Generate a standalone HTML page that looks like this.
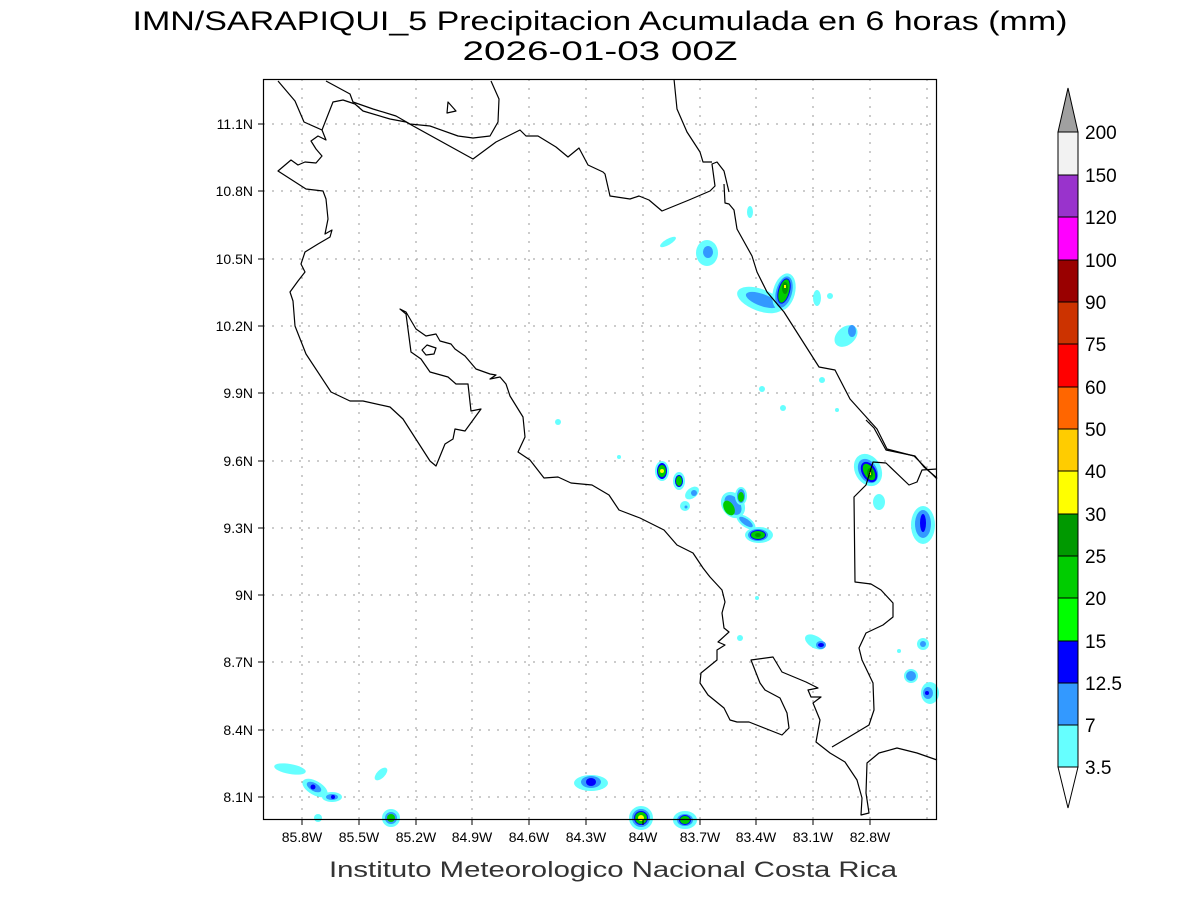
<!DOCTYPE html>
<html><head><meta charset="utf-8"><style>
body{margin:0;background:#fff;}
svg text{font-family:"Liberation Sans",sans-serif;}
</style></head><body>
<svg width="1200" height="900" viewBox="0 0 1200 900" xmlns="http://www.w3.org/2000/svg">
<rect width="1200" height="900" fill="#fff"/>
<text x="600" y="30" font-size="27" text-anchor="middle" textLength="935" lengthAdjust="spacingAndGlyphs">IMN/SARAPIQUI_5 Precipitacion Acumulada en 6 horas (mm)</text>
<text x="600" y="60" font-size="27" text-anchor="middle" textLength="275" lengthAdjust="spacingAndGlyphs">2026-01-03 00Z</text>
<text x="613" y="877" font-size="22" text-anchor="middle" fill="#333" textLength="568" lengthAdjust="spacingAndGlyphs">Instituto Meteorologico Nacional Costa Rica</text>

<!-- grid -->
<g stroke="#999" stroke-width="1" stroke-dasharray="2,7">
<path d="M302 79V820M359 79V820M416 79V820M472 79V820M529 79V820M586 79V820M643 79V820M700 79V820M756 79V820M813 79V820M870 79V820M927 79V820"/>
<path d="M263 797H937M263 730H937M263 662H937M263 595H937M263 528H937M263 461H937M263 393H937M263 326H937M263 259H937M263 191H937M263 124H937"/>
</g>

<!-- rain -->
<g>
<ellipse cx="668" cy="242" rx="9" ry="3" fill="#66ffff" transform="rotate(-30 668 242)"/>
<ellipse cx="707" cy="253" rx="11" ry="13" fill="#66ffff"/><ellipse cx="708" cy="252" rx="5" ry="6" fill="#3399ff"/>
<ellipse cx="750" cy="212" rx="3" ry="6" fill="#66ffff"/>
<ellipse cx="760" cy="300" rx="24" ry="11" fill="#66ffff" transform="rotate(20 760 300)"/>
<ellipse cx="762" cy="300" rx="17" ry="6" fill="#3399ff" transform="rotate(20 762 300)"/>
<ellipse cx="784" cy="292" rx="11" ry="19" fill="#66ffff" transform="rotate(15 784 292)"/>
<ellipse cx="784" cy="292" rx="8" ry="16" fill="#3399ff" transform="rotate(15 784 292)"/>
<ellipse cx="784" cy="291" rx="6" ry="13" fill="#0000ff" transform="rotate(15 784 291)"/>
<ellipse cx="784" cy="291" rx="5" ry="12" fill="#00cc00" transform="rotate(15 784 291)"/>
<ellipse cx="785" cy="288" rx="3" ry="6" fill="#009900"/><rect x="784" y="285" width="2" height="3" fill="#ffff00"/>
<ellipse cx="817" cy="298" rx="4" ry="8" fill="#66ffff"/><circle cx="830" cy="296" r="3" fill="#66ffff"/>
<ellipse cx="846" cy="336" rx="13" ry="9" fill="#66ffff" transform="rotate(-40 846 336)"/><ellipse cx="852" cy="331" rx="4" ry="6" fill="#3399ff"/>
<circle cx="762" cy="389" r="3" fill="#66ffff"/><circle cx="783" cy="408" r="3" fill="#66ffff"/><circle cx="822" cy="380" r="3" fill="#66ffff"/><circle cx="837" cy="410" r="2" fill="#66ffff"/>
<circle cx="558" cy="422" r="3" fill="#66ffff"/><circle cx="619" cy="457" r="2" fill="#66ffff"/>
<ellipse cx="868" cy="470" rx="13" ry="17" fill="#66ffff" transform="rotate(-30 868 470)"/>
<ellipse cx="868" cy="471" rx="9" ry="13" fill="#3399ff" transform="rotate(-30 868 471)"/>
<ellipse cx="869" cy="472" rx="7" ry="11" fill="#0000ff" transform="rotate(-30 869 472)"/>
<ellipse cx="869" cy="472" rx="5" ry="9" fill="#00cc00" transform="rotate(-30 869 472)"/>
<ellipse cx="870" cy="473" rx="3" ry="5" fill="#009900"/><rect x="869" y="472" width="2" height="3" fill="#ffff00"/>
<ellipse cx="879" cy="502" rx="6" ry="8" fill="#66ffff"/>
<ellipse cx="662" cy="471" rx="7" ry="10" fill="#66ffff"/><ellipse cx="662" cy="471" rx="5" ry="8" fill="#0000ff"/><ellipse cx="662" cy="471" rx="4" ry="6" fill="#00cc00"/><circle cx="662" cy="471" r="2" fill="#ffff00"/>
<ellipse cx="679" cy="481" rx="6" ry="9" fill="#66ffff"/><ellipse cx="679" cy="481" rx="4" ry="6" fill="#0000ff"/><ellipse cx="679" cy="481" rx="3" ry="5" fill="#00cc00"/>
<ellipse cx="692" cy="493" rx="8" ry="5" fill="#66ffff" transform="rotate(-40 692 493)"/><circle cx="694" cy="493" r="3" fill="#3399ff"/>
<ellipse cx="685" cy="506" rx="5" ry="5" fill="#66ffff"/><circle cx="686" cy="507" r="1.5" fill="#3399ff"/>
<ellipse cx="733" cy="505" rx="11" ry="14" fill="#66ffff" transform="rotate(-35 733 505)"/><ellipse cx="733" cy="505" rx="7" ry="11" fill="#3399ff" transform="rotate(-35 733 505)"/><ellipse cx="729" cy="508" rx="5" ry="8" fill="#00cc00" transform="rotate(-30 729 508)"/>
<ellipse cx="741" cy="496" rx="6" ry="9" fill="#66ffff"/><ellipse cx="741" cy="496" rx="4" ry="7" fill="#3399ff"/><ellipse cx="741" cy="497" rx="3" ry="5" fill="#00cc00"/>
<ellipse cx="746" cy="522" rx="11" ry="5" fill="#66ffff" transform="rotate(35 746 522)"/><ellipse cx="746" cy="522" rx="8" ry="3" fill="#3399ff" transform="rotate(35 746 522)"/>
<ellipse cx="759" cy="535" rx="14" ry="8" fill="#66ffff"/><ellipse cx="758" cy="535" rx="10" ry="6" fill="#3399ff"/><ellipse cx="758" cy="535" rx="8" ry="5" fill="#0000ff"/><ellipse cx="758" cy="535" rx="7" ry="4" fill="#00cc00"/><ellipse cx="758" cy="535" rx="3" ry="2" fill="#009900"/>
<ellipse cx="923" cy="525" rx="12" ry="19" fill="#66ffff"/><ellipse cx="923" cy="524" rx="8" ry="14" fill="#3399ff"/><ellipse cx="923" cy="523" rx="3" ry="9" fill="#0000ff"/>
<circle cx="740" cy="638" r="3" fill="#66ffff"/><circle cx="757" cy="598" r="2" fill="#66ffff"/>
<ellipse cx="815" cy="642" rx="11" ry="6" fill="#66ffff" transform="rotate(30 815 642)"/><ellipse cx="821" cy="645" rx="5" ry="4" fill="#3399ff"/><ellipse cx="821" cy="645" rx="3" ry="2" fill="#0000ff"/>
<circle cx="923" cy="644" r="6" fill="#66ffff"/><circle cx="923" cy="644" r="3" fill="#3399ff"/>
<circle cx="911" cy="676" r="7" fill="#66ffff"/><circle cx="911" cy="676" r="5" fill="#3399ff"/>
<ellipse cx="930" cy="693" rx="9" ry="11" fill="#66ffff"/><ellipse cx="928" cy="693" rx="5" ry="6" fill="#3399ff"/><circle cx="927" cy="693" r="2" fill="#0000ff"/>
<circle cx="899" cy="651" r="2" fill="#66ffff"/>
<ellipse cx="591" cy="783" rx="17" ry="8" fill="#66ffff"/><ellipse cx="591" cy="782" rx="10" ry="6" fill="#3399ff"/><ellipse cx="591" cy="782" rx="5" ry="4" fill="#0000ff"/>
<ellipse cx="641" cy="818" rx="12" ry="12" fill="#66ffff"/><ellipse cx="641" cy="818" rx="9" ry="9" fill="#3399ff"/><ellipse cx="641" cy="818" rx="7" ry="7" fill="#0000ff"/><ellipse cx="641" cy="818" rx="6" ry="6" fill="#00cc00"/><circle cx="641" cy="818" r="3" fill="#ffff00"/>
<ellipse cx="685" cy="820" rx="12" ry="9" fill="#66ffff"/><ellipse cx="685" cy="820" rx="8" ry="6" fill="#3399ff"/><ellipse cx="685" cy="820" rx="6" ry="5" fill="#0000ff"/><ellipse cx="685" cy="820" rx="5" ry="4" fill="#00cc00"/>
<ellipse cx="290" cy="769" rx="16" ry="5" fill="#66ffff" transform="rotate(10 290 769)"/>
<ellipse cx="315" cy="788" rx="14" ry="7" fill="#66ffff" transform="rotate(30 315 788)"/><ellipse cx="314" cy="787" rx="8" ry="4" fill="#3399ff" transform="rotate(30 314 787)"/><circle cx="313" cy="787" r="2.5" fill="#0000ff"/>
<ellipse cx="332" cy="797" rx="10" ry="5" fill="#66ffff"/><ellipse cx="332" cy="797" rx="6" ry="3" fill="#3399ff"/><circle cx="333" cy="797" r="2" fill="#0000ff"/>
<ellipse cx="381" cy="774" rx="4" ry="8" fill="#66ffff" transform="rotate(45 381 774)"/>
<ellipse cx="391" cy="818" rx="9" ry="9" fill="#66ffff"/><ellipse cx="391" cy="818" rx="6" ry="6" fill="#3399ff"/><ellipse cx="391" cy="818" rx="4" ry="4" fill="#00cc00"/>
<circle cx="318" cy="818" r="4" fill="#66ffff"/>
</g>

<!-- coasts -->
<g fill="none" stroke="#000" stroke-width="1.2" stroke-linejoin="round">
<polyline points="278,81 295,101 304,122 322,130 333,102 343,100 355,104 363,111 390,119 406,122 473,159 496,142 520,130 526,136 538,136 556,147 568,157 579,148 588,165 603,172 605,174 610,196 630,199 639,196 649,200 662,211 689,200 710,191 715,186 712,164 717,162 724,171 729,192"/>
<polyline points="326,81 350,94 353,102 373,109 396,116 410,124 430,126 458,136 473,138 490,136 498,122 499,99 491,81"/>
<polygon points="448,102 456,111 447,113"/>
<polyline points="674,79 677,109 687,132 700,152 703,162 712,162"/>
<polyline points="724,184 725,203 729,204 734,210 737,229 752,256 757,272 767,292 784,312 819,367 835,370 850,399 877,429 887,449 914,456 925,467 937,479"/>
<polyline points="322,130 326,140 318,136 311,141 316,149 322,156 316,163 305,162 298,165 291,160 278,171 306,189 323,191 326,199 328,219 325,234 332,230 330,237 318,244 305,252 301,264 305,272 298,281 290,292 293,301 295,326 306,354 331,392 350,401 363,401 390,407 403,419 430,461 436,466 445,444 453,439 455,429 465,431 481,409 471,411 468,384 456,384 448,377 430,372 421,359 411,352 406,314 400,309 406,312 416,329 426,336 436,334 440,341 451,344 455,349 465,356 476,369 490,374 496,375 490,379 500,377 506,384 510,396 523,417 525,437 518,452 530,460 544,478 558,477 571,483 592,485 609,495 619,510 640,518 664,530 677,545 693,553 703,568 710,577 722,590 725,602 722,613 724,628 729,632 718,642 725,645 717,650 717,660 701,673 700,683 708,695 724,708 730,720 737,722 749,722 782,735 789,728 787,713 780,698 765,690 760,683 751,660 773,657 782,672 806,682 818,688 808,690 811,697 821,697 813,703 820,720 816,742 830,753 845,762 857,780 862,798 861,815 869,813 866,793 867,763 879,753 897,748 917,753 937,760"/>
<polygon points="422,350 427,345 436,348 434,354 426,355"/>
<polyline points="832,747 849,737 869,725 874,710 873,683 862,660 859,648 866,633 883,625 893,617 893,603 881,590 871,584 855,582 854,497 866,485 873,462 886,463 909,485 917,482 922,470 937,469"/>
<polyline points="866,420 874,428 886,450 915,456 924,467 937,478"/>
</g>

<rect x="263.5" y="79.5" width="673" height="740" fill="none" stroke="#000" stroke-width="1.2"/>

<!-- ticks -->
<g stroke="#000" stroke-width="1">
<path d="M302 820v5M359 820v5M416 820v5M472 820v5M529 820v5M586 820v5M643 820v5M700 820v5M756 820v5M813 820v5M870 820v5"/>
<path d="M258 797h5M258 730h5M258 662h5M258 595h5M258 528h5M258 461h5M258 393h5M258 326h5M258 259h5M258 191h5M258 124h5"/>
</g>
<g font-size="14" text-anchor="middle">
<text x="302" y="842">85.8W</text><text x="359" y="842">85.5W</text><text x="416" y="842">85.2W</text><text x="472" y="842">84.9W</text><text x="529" y="842">84.6W</text><text x="586" y="842">84.3W</text><text x="643" y="842">84W</text><text x="700" y="842">83.7W</text><text x="756" y="842">83.4W</text><text x="813" y="842">83.1W</text><text x="870" y="842">82.8W</text>
</g>
<g font-size="14" text-anchor="end">
<text x="253" y="802">8.1N</text><text x="253" y="735">8.4N</text><text x="253" y="667">8.7N</text><text x="253" y="600">9N</text><text x="253" y="533">9.3N</text><text x="253" y="466">9.6N</text><text x="253" y="398">9.9N</text><text x="253" y="331">10.2N</text><text x="253" y="264">10.5N</text><text x="253" y="196">10.8N</text><text x="253" y="129">11.1N</text>
</g>

<!-- colorbar -->
<g stroke="#000" stroke-width="1">
<polygon points="1058,132 1078,132 1068,88" fill="#a0a0a0"/>
<rect x="1058" y="132" width="20" height="43" fill="#f2f2f2"/>
<rect x="1058" y="175" width="20" height="42" fill="#9933cc"/>
<rect x="1058" y="217" width="20" height="43" fill="#ff00ff"/>
<rect x="1058" y="260" width="20" height="42" fill="#990000"/>
<rect x="1058" y="302" width="20" height="42" fill="#cc3300"/>
<rect x="1058" y="344" width="20" height="43" fill="#ff0000"/>
<rect x="1058" y="387" width="20" height="42" fill="#ff6600"/>
<rect x="1058" y="429" width="20" height="42" fill="#ffcc00"/>
<rect x="1058" y="471" width="20" height="43" fill="#ffff00"/>
<rect x="1058" y="514" width="20" height="42" fill="#009900"/>
<rect x="1058" y="556" width="20" height="42" fill="#00cc00"/>
<rect x="1058" y="598" width="20" height="43" fill="#00ff00"/>
<rect x="1058" y="641" width="20" height="42" fill="#0000ff"/>
<rect x="1058" y="683" width="20" height="42" fill="#3399ff"/>
<rect x="1058" y="725" width="20" height="42" fill="#66ffff"/>
<polygon points="1058,767 1078,767 1068,808" fill="#fff"/>
</g>
<g font-size="19">
<text x="1085" y="139">200</text><text x="1085" y="182">150</text><text x="1085" y="224">120</text><text x="1085" y="267">100</text><text x="1085" y="309">90</text><text x="1085" y="351">75</text><text x="1085" y="394">60</text><text x="1085" y="436">50</text><text x="1085" y="478">40</text><text x="1085" y="521">30</text><text x="1085" y="563">25</text><text x="1085" y="605">20</text><text x="1085" y="648">15</text><text x="1085" y="690">12.5</text><text x="1085" y="732">7</text><text x="1085" y="774">3.5</text>
</g>
</svg>
</body></html>
